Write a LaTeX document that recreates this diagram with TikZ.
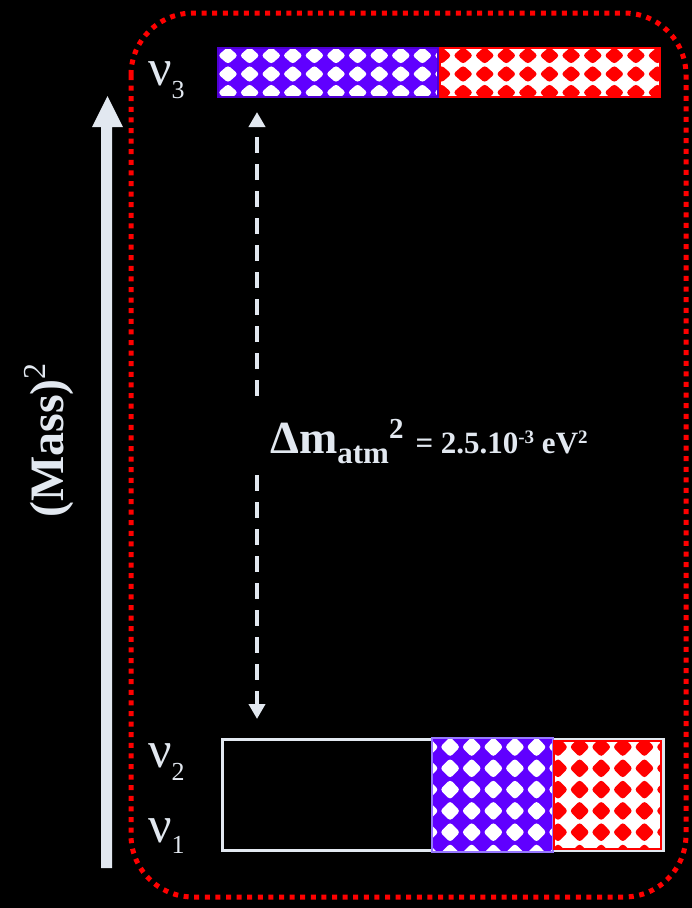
\documentclass[tikz,border=0pt]{standalone}
\usepackage{fontspec}
\setmainfont{Liberation Serif}
\usetikzlibrary{arrows.meta}
\definecolor{violetb}{RGB}{96,0,255}
\definecolor{violetedge}{RGB}{80,0,210}
\definecolor{lavedge}{RGB}{150,120,255}
\definecolor{redb}{RGB}{255,0,0}
\definecolor{lightg}{RGB}{226,232,240}
% #1 x1, #2 y1, #3 x2, #4 y2, #5 bg, #6 fg, #7 cx0, #8 cy0, #9 vertical period
\newcommand{\pbox}[9]{%
  \begin{scope}
    \clip (#1,#2) rectangle (#3,#4);
    \fill[#5] (#1,#2) rectangle (#3,#4);
    \foreach \i in {-1,...,11}{%
      \foreach \j in {-1,...,6}{%
        \fill[#6, rounded corners=3pt]
          ({#7+21.6*\i},{#8+#9*\j-0.47*#9}) -- ++(10,{0.47*#9})
          -- ++(-10,{0.47*#9}) -- ++(-10,{-0.47*#9}) -- cycle;
      }}
  \end{scope}}
\tikzset{
  lbl/.style={text=lightg, inner sep=0pt, anchor=base west},
  levelframe/.style={draw=redb, line width=5pt, dash pattern=on 5pt off 5.6pt, rounded corners=62pt},
  gaparrow/.style={draw=lightg, line width=4pt, dash pattern=on 16pt off 11pt,
    -{Triangle[width=16pt,length=15pt]}},
}
\begin{document}
\begin{tikzpicture}[x=1pt,y=-1pt]
\useasboundingbox (0,0) rectangle (692,908);
\fill[black] (0,0) rectangle (692,908);

% frame
\draw[levelframe] (131,13) rectangle (686,897);

% mass axis arrow
\fill[lightg] (101,868) -- (112,868) -- (112,127) -- (123,127) -- (107.5,96)
  -- (92,127) -- (101,127) -- cycle;
\node[lbl, rotate=90] (mass) at (63,518)
  {\fontsize{48}{48}\selectfont\bfseries (Mass)\raisebox{18pt}{\fontsize{32}{32}\selectfont\mdseries 2}};

% nu3 level
\pbox{218}{48}{438}{97}{violetb}{white}{228}{55.5}{18.5}
\draw[violetedge, line width=1.5pt] (218,48) rectangle (438,97);
\pbox{440}{48}{660}{97}{white}{redb}{441.5}{55.5}{18.5}
\draw[redb, line width=2pt] (440,48) rectangle (660,97);
\node[lbl] (nu3) at (148,85)
  {\fontsize{52}{52}\selectfont ν\raisebox{-13pt}{\fontsize{26}{26}\selectfont 3}};

% nu1 / nu2 level
\draw[lightg, line width=3pt] (222,739) rectangle (663,850);
\pbox{432}{738}{553}{852}{violetb}{white}{428.5}{747}{21.3}
\draw[lavedge, line width=1.2pt] (432,738) rectangle (553,852);
\pbox{553}{741}{661}{849}{white}{redb}{558}{747}{21.3}
\draw[redb, line width=2.5pt] (554,741) rectangle (661,849);
\node[lbl] (nu2) at (148,767)
  {\fontsize{52}{52}\selectfont ν\raisebox{-13pt}{\fontsize{26}{26}\selectfont 2}};
\node[lbl] (nu1) at (148,842)
  {\fontsize{52}{52}\selectfont ν\raisebox{-11pt}{\fontsize{26}{26}\selectfont 1}};

% delta m arrow
\coordinate (topTip) at (257,112);
\coordinate (upperEnd) at (257,396);
\coordinate (lowerStart) at (257,475);
\coordinate (botTip) at (257,719);
\draw[gaparrow] (upperEnd) -- (topTip);
\draw[gaparrow] (lowerStart) -- (botTip);

\node[lbl] (dm) at (270,453)
  {\bfseries\fontsize{46}{46}\selectfont Δm\raisebox{-10pt}{\fontsize{31}{31}\selectfont atm}\raisebox{15pt}{\fontsize{29}{29}\selectfont 2}\hspace{12pt}\fontsize{31}{31}\selectfont = 2.5.10\raisebox{10pt}{\fontsize{19}{19}\selectfont -3} eV\raisebox{10pt}{\fontsize{19}{19}\selectfont 2}};
\end{tikzpicture}
\end{document}
